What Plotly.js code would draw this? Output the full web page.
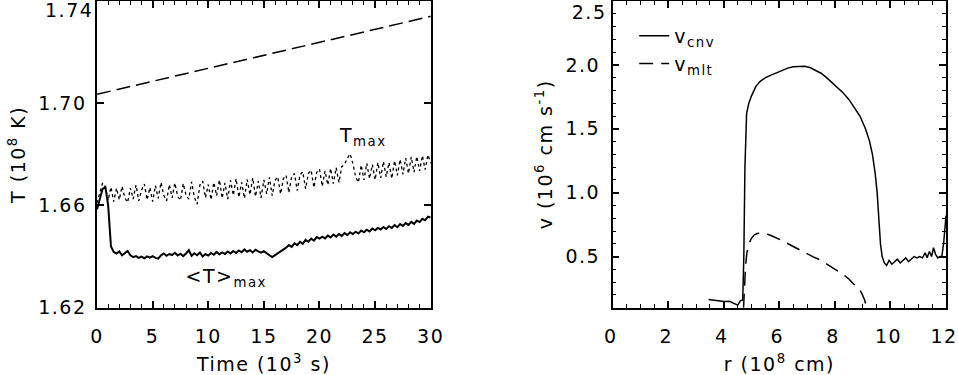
<!DOCTYPE html>
<html>
<head>
<meta charset="utf-8">
<script src="https://cdn.plot.ly/plotly-3.0.1.min.js"></script>
<style>
  html, body { margin: 0; padding: 0; background: #fff; }
  #plot { width: 958px; height: 375px; }
  #plot text { letter-spacing: 1.5px; }
</style>
</head>
<body>
<div id="plot"></div>
<script>
// left panel: time in 10^3 s
var time = [0,0.25,0.5,0.75,1,1.25,1.5,1.75,2,2.25,2.5,2.75,3,3.25,3.5,3.75,4,4.25,4.5,4.75,
  5,5.25,5.5,5.75,6,6.25,6.5,6.75,7,7.25,7.5,7.75,8,8.25,8.5,8.75,9,9.25,9.5,9.75,
  10,10.25,10.5,10.75,11,11.25,11.5,11.75,12,12.25,12.5,12.75,13,13.25,13.5,13.75,14,14.25,14.5,14.75,
  15,15.25,15.5,15.75,16,16.25,16.5,16.75,17,17.25,17.5,17.75,18,18.25,18.5,18.75,19,19.25,19.5,19.75,
  20,20.25,20.5,20.75,21,21.25,21.5,21.75,22,22.25,22.5,22.75,23,23.25,23.5,23.75,24,24.25,24.5,24.75,
  25,25.25,25.5,25.75,26,26.25,26.5,26.75,27,27.25,27.5,27.75,28,28.25,28.5,28.75,29,29.25,29.5,29.75,30];

// <T>_max (solid)
var tAvgMax = [1.6585,1.6630,1.6665,1.6672,1.6600,1.6440,1.6418,1.6412,1.6420,1.6405,1.6415,1.6422,1.6405,1.6398,1.6402,1.6395,1.6400,1.6393,1.6401,1.6396,
  1.6402,1.6395,1.6392,1.6405,1.6412,1.6403,1.6410,1.6406,1.6415,1.6404,1.6411,1.6402,1.6412,1.6425,1.6403,1.6413,1.6405,1.6416,1.6400,1.6410,
  1.6404,1.6414,1.6407,1.6418,1.6409,1.6416,1.6410,1.6420,1.6412,1.6422,1.6414,1.6424,1.6417,1.6428,1.6419,1.6425,1.6416,1.6427,1.6420,1.6415,
  1.6421,1.6412,1.6405,1.6398,1.6405,1.6413,1.6420,1.6428,1.6435,1.6445,1.6438,1.6452,1.6445,1.6458,1.6450,1.6465,1.6458,1.6470,1.6462,1.6476,
  1.6470,1.6478,1.6471,1.6482,1.6475,1.6486,1.6478,1.6488,1.6481,1.6492,1.6484,1.6495,1.6488,1.6497,1.6490,1.6502,1.6495,1.6505,1.6498,1.6510,
  1.6503,1.6512,1.6506,1.6516,1.6508,1.6519,1.6512,1.6523,1.6515,1.6527,1.6520,1.6531,1.6524,1.6536,1.6528,1.6541,1.6535,1.6548,1.6542,1.6556,1.6553];

// T_max (dotted)
var tMax = [1.6610,1.6650,1.6688,1.6672,1.6620,1.6672,1.6615,1.6668,1.6622,1.6675,1.6630,1.6612,1.6668,1.6625,1.6680,1.6618,1.6660,1.6684,1.6622,1.6670,
  1.6615,1.6678,1.6628,1.6690,1.6640,1.6618,1.6682,1.6630,1.6688,1.6635,1.6620,1.6686,1.6640,1.6625,1.6692,1.6632,1.6605,1.6680,1.6695,1.6630,
  1.6682,1.6622,1.6690,1.6638,1.6700,1.6628,1.6688,1.6625,1.6698,1.6640,1.6705,1.6632,1.6690,1.6628,1.6702,1.6642,1.6708,1.6635,1.6695,1.6630,
  1.6700,1.6645,1.6710,1.6638,1.6698,1.6712,1.6645,1.6705,1.6718,1.6650,1.6712,1.6725,1.6658,1.6720,1.6732,1.6665,1.6725,1.6738,1.6670,1.6730,
  1.6742,1.6675,1.6735,1.6680,1.6745,1.6685,1.6748,1.6690,1.6752,1.6760,1.6785,1.6802,1.6765,1.6712,1.6690,1.6758,1.6700,1.6765,1.6705,1.6760,
  1.6700,1.6768,1.6708,1.6772,1.6712,1.6768,1.6705,1.6775,1.6718,1.6780,1.6722,1.6785,1.6725,1.6790,1.6730,1.6792,1.6735,1.6795,1.6740,1.6798,1.6765];

// dashed reference line
var refTime = [0, 30];
var refT = [1.7035, 1.7340];

// right panel: radius in 10^8 cm
var rCnv = [3.45,3.7,4.0,4.2,4.4,4.5,4.6,4.68,4.72,4.76,4.82,4.9,5.0,5.15,5.3,5.5,5.7,5.9,6.1,6.3,
  6.5,6.7,6.9,7.1,7.3,7.5,7.7,7.9,8.1,8.3,8.5,8.7,8.9,9.1,9.25,9.35,9.45,9.52,9.58,9.64,
  9.7,9.78,9.86,9.95,10.05,10.15,10.25,10.35,10.45,10.55,10.65,10.75,10.85,10.95,11.05,11.15,11.25,11.32,11.4,11.48,
  11.55,11.62,11.7,11.78,11.85,11.92,12.0];
var vCnv = [0.165,0.155,0.148,0.15,0.13,0.12,0.155,0.16,0.5,1.2,1.62,1.7,1.76,1.83,1.87,1.9,1.92,1.94,1.96,1.975,
  1.985,1.99,1.99,1.98,1.96,1.935,1.9,1.86,1.82,1.78,1.73,1.67,1.6,1.5,1.4,1.3,1.15,1.0,0.8,0.6,
  0.5,0.45,0.43,0.47,0.44,0.46,0.48,0.45,0.47,0.49,0.46,0.48,0.5,0.49,0.5,0.49,0.53,0.49,0.54,0.5,
  0.57,0.52,0.49,0.5,0.5,0.62,0.82];

var rMlt = [4.71,4.74,4.78,4.83,4.9,5.0,5.1,5.2,5.35,5.5,5.7,6.0,6.3,6.6,6.9,7.2,7.5,7.8,8.1,8.3,8.5,8.7,8.85,8.97,9.07,9.14];
var vMlt = [0.1,0.25,0.42,0.53,0.6,0.645,0.67,0.68,0.685,0.68,0.665,0.635,0.6,0.57,0.535,0.5,0.47,0.43,0.39,0.36,0.325,0.28,0.255,0.21,0.16,0.1];

// tick labels
var tTicks = [1.62, 1.66, 1.70, 1.74];
var tTickText = ['1.62', '1.66', '1.70', ''];   // top label drawn a bit lower, as annotation
var vTicks = [0.5, 1.0, 1.5, 2.0, 2.5];
var vTickText = ['0.5', '1.0', '1.5', '2.0', ''];

var fnt = {family: 'DejaVu Sans, Liberation Sans, sans-serif', size: 19, color: '#000'};

var traces = [
  {x: refTime, y: refT, xaxis: 'x', yaxis: 'y', mode: 'lines', showlegend: false,
   line: {color: '#000', width: 1.5, dash: '14px,6px'}},
  {x: time, y: tMax, xaxis: 'x', yaxis: 'y', mode: 'lines', showlegend: false,
   line: {color: '#000', width: 1.3, dash: 'dot'}},
  {x: time, y: tAvgMax, xaxis: 'x', yaxis: 'y', mode: 'lines', showlegend: false,
   line: {color: '#000', width: 2}},
  {x: rCnv, y: vCnv, xaxis: 'x2', yaxis: 'y2', mode: 'lines', name: 'v<sub>cnv</sub>',
   line: {color: '#000', width: 1.5}},
  {x: rMlt, y: vMlt, xaxis: 'x2', yaxis: 'y2', mode: 'lines', name: 'v<sub>mlt</sub>',
   line: {color: '#000', width: 1.5, dash: '14px,8px'}}
];

function ax(extra) {
  var base = {
    showgrid: false, zeroline: false, showline: true, linecolor: '#000', linewidth: 1.5,
    mirror: 'ticks', ticks: 'inside', ticklen: 7, tickwidth: 1.5, tickcolor: '#000',
    tickfont: fnt, automargin: false, ticklabeloverflow: 'allow'
  };
  for (var k in extra) base[k] = extra[k];
  return base;
}

var minorT = {ticks: 'inside', ticklen: 4, tickcolor: '#000', tickwidth: 1.2};

var layout = {
  width: 958, height: 375,
  margin: {l: 0, r: 0, t: 0, b: 0},
  paper_bgcolor: '#fff', plot_bgcolor: '#fff',
  font: fnt,
  xaxis: ax({domain: [0.1013, 0.4496], anchor: 'y', range: [0, 30], dtick: 5, tick0: 0,
    ticklabelstandoff: 11,
    minor: Object.assign({dtick: 1}, minorT),
    title: {text: 'Time (10<sup>3</sup> s)', font: fnt, standoff: 11}}),
  yaxis: ax({domain: [0.1795, 0.9973], anchor: 'x', range: [1.62, 1.74],
    tickmode: 'array', tickvals: tTicks, ticktext: tTickText, ticklabelstandoff: 5,
    title: {text: 'T (10<sup>8</sup> K)', font: fnt, standoff: 14}}),
  xaxis2: ax({domain: [0.6396, 0.9875], anchor: 'y2', range: [0, 12], dtick: 2, tick0: 0,
    ticklabelstandoff: 11, ticklabelshift: -2,
    minor: Object.assign({dtick: 0.5}, minorT),
    title: {text: 'r (10<sup>8</sup> cm)', font: fnt, standoff: 11}}),
  yaxis2: ax({domain: [0.1795, 0.9973], anchor: 'x2', range: [0.1, 2.5],
    tickmode: 'array', tickvals: vTicks, ticktext: vTickText, ticklabelstandoff: 7,
    minor: Object.assign({dtick: 0.1}, minorT),
    title: {text: 'v (10<sup>6</sup> cm s<sup>-1</sup>)', font: fnt, standoff: 12}}),
  legend: {x: 0.662, y: 0.955, xanchor: 'left', yanchor: 'top', bgcolor: 'rgba(0,0,0,0)',
    font: fnt, tracegroupgap: 0, itemwidth: 30},
  annotations: [
    {xref: 'x', yref: 'y', x: 0, y: tTicks[3], xanchor: 'right', yanchor: 'middle', xshift: -5, yshift: -9,
     showarrow: false, text: '1.74', font: fnt},
    {xref: 'x2', yref: 'y2', x: 0, y: vTicks[4], xanchor: 'right', yanchor: 'middle', xshift: -7, yshift: -11,
     showarrow: false, text: '2.5', font: fnt},
    {xref: 'x', yref: 'y', x: 21.8, y: 1.6868, xanchor: 'left', yanchor: 'middle', showarrow: false,
     text: 'T<sub>max</sub>', font: fnt},
    {xref: 'x', yref: 'y', x: 8.2, y: 1.632, xanchor: 'left', yanchor: 'middle', showarrow: false,
     text: '&lt;T&gt;<sub>max</sub>', font: fnt}
  ]
};

Plotly.newPlot('plot', traces, layout, {displayModeBar: false});
</script>
</body>
</html>
